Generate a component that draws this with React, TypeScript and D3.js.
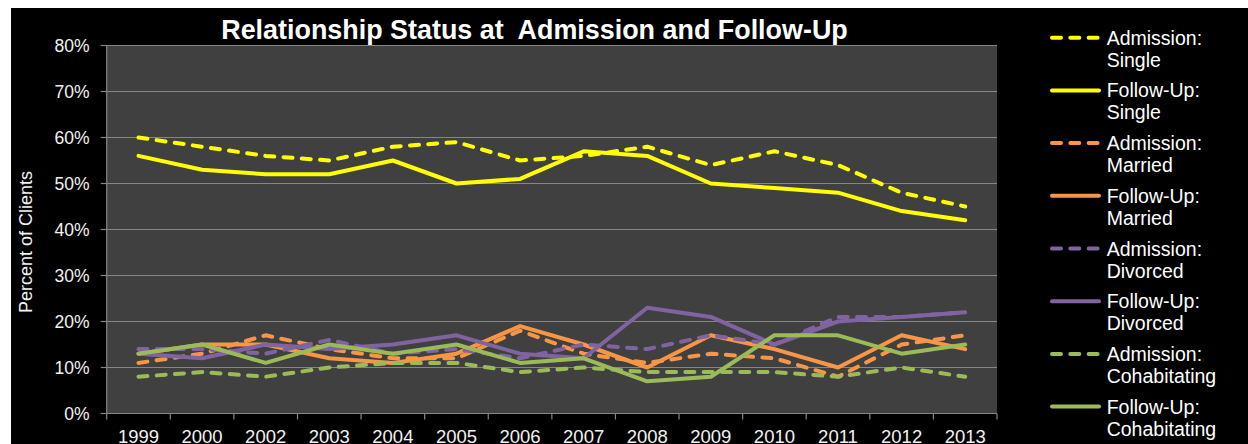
import React from "react";
import * as d3 from "d3";

const years = ["1999","2000","2002","2003","2004","2005","2006","2007","2008","2009","2010","2011","2012","2013"];
const admissionSingle = [60,58,56,55,58,59,55,56,58,54,57,54,48,45];
const followUpSingle = [56,53,52,52,55,50,51,57,56,50,49,48,44,42];
const admissionMarried = [11,13,17,14,12,12,18,13,11,13,12,8,15,17];
const followUpMarried = [13,15,15,12,11,13,19,15,10,17,14,10,17,14];
const admissionDivorced = [14,14,13,16,13,14,12,15,14,17,15,21,21,22];
const followUpDivorced = [13,12,15,14,15,17,13,12,23,21,15,20,21,22];
const admissionCohab = [8,9,8,10,11,11,9,10,9,9,9,8,10,8];
const followUpCohab = [13,15,11,15,13,15,11,12,7,8,17,17,13,15];
const yTicks = [0,10,20,30,40,50,60,70,80];

const series = [
  { name1: "Admission:", name2: "Single", values: admissionSingle, color: "#FFFF00", dashed: true },
  { name1: "Follow-Up:", name2: "Single", values: followUpSingle, color: "#FFFF00", dashed: false },
  { name1: "Admission:", name2: "Married", values: admissionMarried, color: "#F79646", dashed: true },
  { name1: "Follow-Up:", name2: "Married", values: followUpMarried, color: "#F79646", dashed: false },
  { name1: "Admission:", name2: "Divorced", values: admissionDivorced, color: "#8064A2", dashed: true },
  { name1: "Follow-Up:", name2: "Divorced", values: followUpDivorced, color: "#8064A2", dashed: false },
  { name1: "Admission:", name2: "Cohabitating", values: admissionCohab, color: "#9BBB59", dashed: true },
  { name1: "Follow-Up:", name2: "Cohabitating", values: followUpCohab, color: "#9BBB59", dashed: false },
];

const FONT = "'Liberation Sans', Arial, Helvetica, sans-serif";

export default function App() {
  const W = 1248, H = 444;
  const left = 106.7, right = 997, top = 45.5, bottom = 413.5;
  const x = d3.scaleBand<string>().domain(years).range([left, right]).padding(0);
  const y = d3.scaleLinear().domain([0, 80]).range([bottom, top]);
  const cx = (d: string) => (x(d) as number) + x.bandwidth() / 2;
  const line = d3.line<number>().x((_, i) => cx(years[i])).y((v) => y(v));
  const boundaries = [...years.map((d) => x(d) as number), right];

  return (
    <svg width={W} height={H} style={{ position: "absolute", left: 0, top: 0, display: "block" }} fontFamily={FONT}>
      <rect x={0} y={0} width={W} height={H} fill="#ffffff" />
      <rect x={11} y={8} width={W - 11} height={H - 8} fill="#000000" />
      <rect x={left} y={top} width={right - left} height={bottom - top} fill="#404040" />
      {yTicks.map((t) => (
        <g key={t}>
          {t > 0 && <line x1={left} x2={right} y1={y(t)} y2={y(t)} stroke="#868686" strokeWidth={1.2} />}
          <line x1={left - 6} x2={left} y1={y(t)} y2={y(t)} stroke="#868686" strokeWidth={1.2} />
          <text x={89.5} y={y(t)} dy="0.36em" textAnchor="end" fill="#f2f2f2" fontSize={17.5}>{t}%</text>
        </g>
      ))}
      <line x1={left} x2={left} y1={top} y2={bottom} stroke="#868686" strokeWidth={1.2} />
      <line x1={left} x2={right} y1={bottom} y2={bottom} stroke="#868686" strokeWidth={1.2} />
      {boundaries.map((b, i) => (
        <line key={i} x1={b} x2={b} y1={bottom} y2={bottom + 6} stroke="#868686" strokeWidth={1.2} />
      ))}
      {years.map((d) => (
        <text key={d} x={cx(d)} y={442.5} textAnchor="middle" fill="#f2f2f2" fontSize={18.5}>{d}</text>
      ))}
      <text transform={`translate(32,242) rotate(-90)`} textAnchor="middle" fill="#f2f2f2" fontSize={18}>Percent of Clients</text>
      <text x={534.5} y={38.5} textAnchor="middle" fill="#ffffff" fontSize={26.9} fontWeight="bold" style={{ whiteSpace: "pre" }}>{"Relationship Status at  Admission and Follow-Up"}</text>
      {series.map((s, i) => (
        <path key={i} d={line(s.values) as string} fill="none" stroke={s.color} strokeWidth={4}
          strokeLinecap="round" strokeLinejoin="round" strokeDasharray={s.dashed ? "9,9.3" : undefined} />
      ))}
      {series.map((s, i) => {
        const ly = 37.7 + i * 52.7;
        return (
          <g key={i}>
            <line x1={1052} x2={1099} y1={ly} y2={ly} stroke={s.color} strokeWidth={4} strokeLinecap="round"
              strokeDasharray={s.dashed ? "9,9.3" : undefined} />
            <text x={1106.7} y={ly + 7} fill="#ffffff" fontSize={19.5}>{s.name1}</text>
            <text x={1106.7} y={ly + 29} fill="#ffffff" fontSize={19.5}>{s.name2}</text>
          </g>
        );
      })}
    </svg>
  );
}
